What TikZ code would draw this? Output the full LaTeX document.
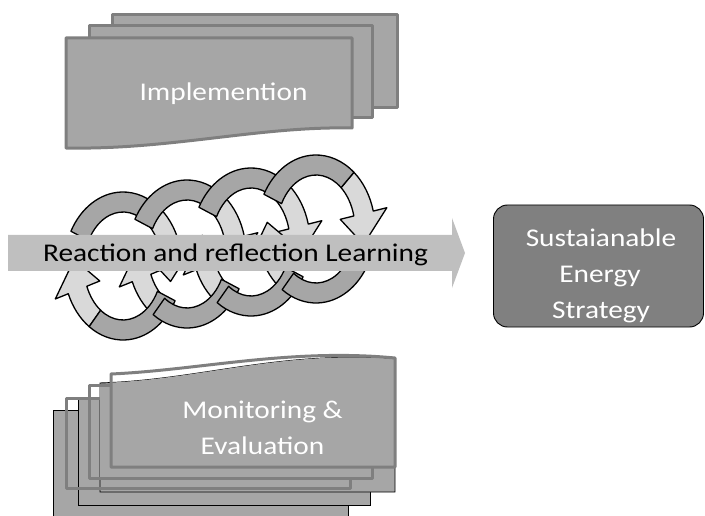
\documentclass[tikz,border=0pt]{standalone}
\usepackage{fontspec}
\setmainfont[FakeStretch=1.15]{Carlito}
\definecolor{boxfill}{RGB}{166,166,166}
\definecolor{boxline}{RGB}{127,127,127}
\definecolor{bandfill}{RGB}{191,191,191}
\definecolor{goalfill}{RGB}{128,128,128}
\definecolor{ringdark}{RGB}{166,166,166}
\definecolor{ringlight}{RGB}{217,217,217}
\tikzset{
  stackbox/.style={fill=boxfill, draw=boxline, line width=3pt, line join=round},
  backbox/.style={fill=boxfill, draw=black, line width=0.9pt},
  stackline/.style={draw=boxline, line width=3pt, line join=round},
  lbl/.style={font=\fontsize{25.5}{36}\selectfont, inner sep=0pt, anchor=base},
  goal/.style={fill=goalfill, draw=black, line width=0.9pt, rounded corners=14pt,
    minimum width=210pt, minimum height=122pt, inner sep=0pt},
  ringD/.style={fill=ringdark, draw=black, line width=1.3pt, line join=round},
  ringL/.style={fill=ringlight, draw=black, line width=1.3pt, line join=round},
  bandarrow/.style={fill=bandfill}
}
\newcommand{\ringpart}[3]{%
  \path[#1] (#2:59 and 74) arc[start angle=#2, end angle=#3, x radius=59, y radius=74]
    -- (#3:39 and 54) arc[start angle=#3, end angle=#2, x radius=39, y radius=54] -- cycle;}
\newcommand{\ringhead}[4]{%
  \path[#1] (#2:59 and 74) arc[start angle=#2, end angle=#3, x radius=59, y radius=74]
    -- (#3:73 and 88) -- (#4:49 and 64) -- (#3:25 and 40) -- (#3:39 and 54)
    arc[start angle=#3, end angle=#2, x radius=39, y radius=54] -- cycle;}
\newcommand{\coillight}[1]{%
  \begin{scope}[shift={#1}, yscale=-1]
    \ringhead{ringL}{50}{14}{-14}
    \ringhead{ringL}{-125}{-158}{-186}
  \end{scope}}
\newcommand{\coildark}[1]{%
  \begin{scope}[shift={#1}, yscale=-1]
    \ringpart{ringD}{152}{50}
    \ringpart{ringD}{-28}{-125}
  \end{scope}}
\begin{document}
\begin{tikzpicture}[x=1pt, y=-1pt]
\useasboundingbox (0,0) rectangle (705,516);

% top stack: Implemention
\draw[stackbox] (112,15) rectangle (397,108);
\draw[stackbox] (89,26) rectangle (372,118);
\draw[stackbox] (66,38) -- (352,38) -- (352,128) .. controls (260,126) and (170,150) .. (66,148) -- cycle;
\node[lbl, text=white] (impl) at (223.5,101) {Implemention};

% bottom stack: Monitoring & Evaluation
\draw[backbox] (53,410) rectangle (348,519);
\draw[backbox] (78,397) rectangle (370,505);
\draw[backbox] (100,383) .. controls (200,380) and (280,350) .. (395,359) -- (395,492) -- (100,492) -- cycle;
\draw[stackline] (66,398) rectangle (350,488);
\begin{scope}
  \clip (89,385) rectangle (372,478);
  \fill[boxfill] (100,383) .. controls (200,380) and (280,350) .. (395,359) -- (395,492) -- (100,492) -- cycle;
\end{scope}
\draw[stackline] (89,385) rectangle (372,478);
\begin{scope}
  \clip (111,340) rectangle (395,467);
  \fill[boxfill] (100,383) .. controls (200,380) and (280,350) .. (395,359) -- (395,492) -- (100,492) -- cycle;
\end{scope}
\draw[stackline] (111,374) .. controls (200,370) and (290,348) .. (395,358) -- (395,467) -- (111,467) -- cycle;
\node[lbl, text=white] (mon1) at (262.5,418) {Monitoring \&};
\node[lbl, text=white] (mon2) at (262.5,454) {Evaluation};

% learning cycles
\coillight{(123,266)}
\coillight{(187,254)}
\coillight{(251,242)}
\coillight{(316,229)}
\coildark{(123,266)}
\coildark{(187,254)}
\coildark{(251,242)}
\coildark{(316,229)}

% big arrow band
\path[bandarrow] (8,235) -- (452,235) -- (452,218) -- (465,253) -- (452,288) -- (452,271) -- (8,271) -- cycle;
\node[lbl, text=black] (learn) at (235.5,261.5) {Reaction and reflection Learning};

% goal box
\node[goal] (goal) at (598.5,266) {};
\node[lbl, text=white] (goal1) at (601,247) {Sustaianable};
\node[lbl, text=white] (goal2) at (600,283) {Energy};
\node[lbl, text=white] (goal3) at (601,318) {Strategy};
\end{tikzpicture}
\end{document}
